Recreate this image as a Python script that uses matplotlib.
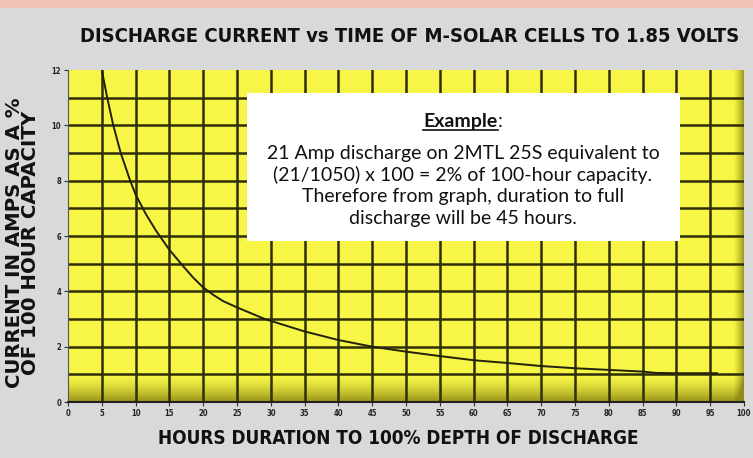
import numpy as np
import matplotlib
matplotlib.use("Agg")
import matplotlib.pyplot as plt
from matplotlib.patches import Rectangle
from matplotlib.lines import Line2D

# ---- data ----
hours = [5, 5.8, 6.7, 7.8, 9.2, 10, 11.5, 13, 15, 17, 18.5, 20, 21.5, 23, 25, 29.1, 35, 40,
         45, 50, 55, 60, 65, 70, 75, 80, 85, 87, 90, 96]
current = [12, 11.0, 10.0, 9.0, 8.0, 7.5, 6.8, 6.2, 5.5, 4.92, 4.5, 4.14, 3.87, 3.64, 3.42,
           3.0, 2.55, 2.24, 2.0, 1.82, 1.66, 1.51, 1.41, 1.30, 1.22, 1.16, 1.10, 1.05, 1.04, 1.04]
x_ticks = list(range(0, 101, 5))
y_ticks = [0, 2, 4, 6, 8, 10, 12]
title = "DISCHARGE CURRENT vs TIME OF M-SOLAR CELLS TO 1.85 VOLTS"
xlabel = "HOURS DURATION TO 100% DEPTH OF DISCHARGE"
ylabel = "CURRENT IN AMPS AS A %\nOF 100 HOUR CAPACITY"
box_lines = ["21 Amp discharge on 2MTL 25S equivalent to",
             "(21/1050) x 100 = 2% of 100-hour capacity.",
             "Therefore from graph, duration to full",
             "discharge will be 45 hours."]

W, H = 753, 458
fig = plt.figure(figsize=(W / 100, H / 100), dpi=100, facecolor="#d9d9d9")

# top pinkish strip
fig.patches.append(Rectangle((0, 1 - 8 / H), 1, 8 / H, transform=fig.transFigure,
                             facecolor="#eec3b3", edgecolor="none", zorder=0))

ax = fig.add_axes([68 / W, (H - 402) / H, 676 / W, 332 / H])
ax.set_facecolor("#f7f546")
ax.set_xlim(0, 100)
ax.set_ylim(0, 12)

# 3D-ish shading of the yellow field
ny, nx = 200, 600
yy = np.linspace(0, 1, ny)[:, None]
xx = np.linspace(0, 1, nx)[None, :]
a_bottom = np.clip((0.08 - (1 - yy)) / 0.08, 0, 1) ** 1.5 * 0.6
a_right = np.clip((xx - 0.984) / 0.016, 0, 1) ** 1.5 * 0.55
alpha = np.clip(a_bottom + a_right, 0, 0.65)
img = np.zeros((ny, nx, 4))
img[..., 0] = 0.35
img[..., 1] = 0.33
img[..., 2] = 0.0
img[..., 3] = alpha
ax.imshow(img, extent=(0, 1, 0, 1), transform=ax.transAxes, aspect="auto", zorder=0.5)

grid_c = "#2e2e0c"
for v in range(5, 100, 5):
    ax.axvline(v, color=grid_c, lw=1.8, zorder=1)
for v in range(1, 12):
    ax.axhline(v, color=grid_c, lw=1.8, zorder=1)

ax.plot(hours, current, color="#222208", lw=1.4, zorder=3)

for s in ["top", "right"]:
    ax.spines[s].set_visible(False)
ax.spines["left"].set_color("#555555")
ax.spines["bottom"].set_color("#222222")
ax.spines["bottom"].set_linewidth(1.5)

ax.set_xticks(x_ticks)
ax.set_yticks(y_ticks)
ax.set_xticklabels([str(v) for v in x_ticks])
ax.set_yticklabels([str(v) for v in y_ticks])
ax.tick_params(axis="both", length=3, width=0.8, color="#333333", pad=2,
               labelsize=5.5, labelcolor="#222222")
for lab in ax.get_xticklabels() + ax.get_yticklabels():
    lab.set_fontweight("bold")
    lab.set_fontstretch("condensed")

lab_font = dict(family="DejaVu Sans", fontweight="bold", fontstretch="condensed", color="#111111")
fig.text(410 / W, 1 - 37 / H, title, ha="center", va="center", fontsize=14.5, **lab_font)
fig.text(398 / W, 1 - 438 / H, xlabel, ha="center", va="center", fontsize=13.6, **lab_font)
fig.text(23 / W, 1 - 243 / H, ylabel, ha="center", va="center", rotation=90,
         family="DejaVu Sans", fontweight="bold", color="#111111",
         fontsize=14.2, linespacing=0.8)

# example box
fig.patches.append(Rectangle((247 / W, (H - 241) / H), 433 / W, 148 / H,
                             transform=fig.transFigure, facecolor="white",
                             edgecolor="none", zorder=5))
box_font = dict(family="Lato", fontsize=14, color="#111111", zorder=6)
cx = 463 / W
fig.canvas.draw()
r = fig.canvas.get_renderer()
t1 = fig.text(0, 0, "Example", fontweight="bold", ha="left", va="baseline", **box_font)
t2 = fig.text(0, 0, ":", ha="left", va="baseline", **box_font)
w1 = t1.get_window_extent(r).width
w2 = t2.get_window_extent(r).width
x0 = cx * W - (w1 + w2) / 2
base = H - 127
t1.set_position((x0 / W, base / H))
t2.set_position(((x0 + w1) / W, base / H))
fig.lines.append(Line2D([x0 / W, (x0 + w1) / W], [(base - 3) / H, (base - 3) / H],
                        transform=fig.transFigure, color="#111111", lw=1.2, zorder=6))
for i, line in enumerate(box_lines):
    fig.text(cx, 1 - (153 + 21.7 * i) / H, line, ha="center", va="center", **box_font)

fig.savefig("out.png", dpi=100, facecolor=fig.get_facecolor())
